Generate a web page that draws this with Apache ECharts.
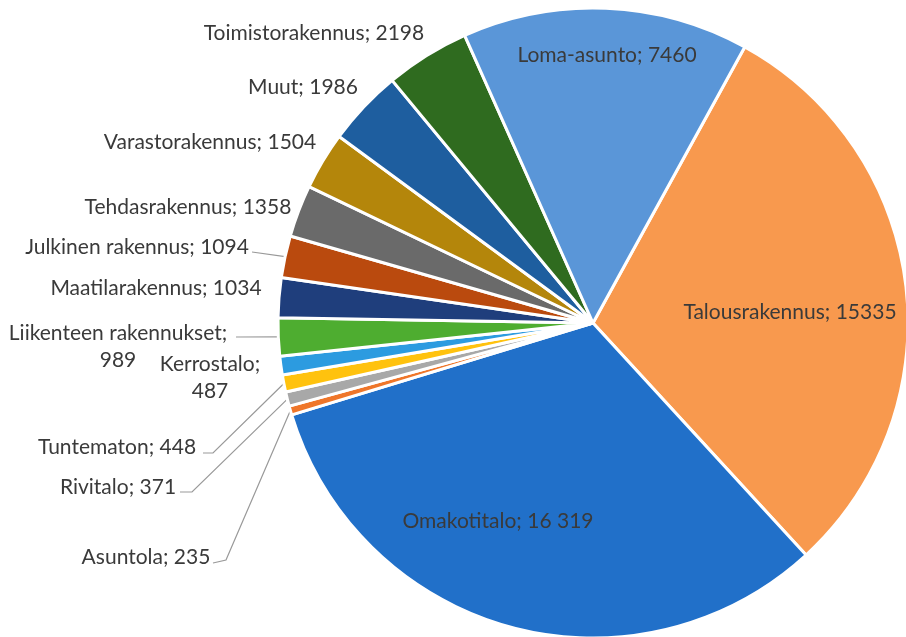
<!DOCTYPE html>
<html>
<head>
<meta charset="utf-8">
<script src="https://cdn.jsdelivr.net/npm/echarts@6/dist/echarts.min.js"></script>
<style>
  html, body { margin: 0; padding: 0; background: #fff; }
  #chart { width: 906px; height: 637px; }
</style>
</head>
<body>
<div id="chart"></div>
<script>
// rakennustyypit myötäpäivään, alkaen Talousrakennuksesta
const names = [
  "Talousrakennus", "Omakotitalo", "Asuntola", "Rivitalo", "Tuntematon",
  "Kerrostalo", "Liikenteen rakennukset", "Maatilarakennus", "Julkinen rakennus",
  "Tehdasrakennus", "Varastorakennus", "Muut", "Toimistorakennus", "Loma-asunto",
];
const values = [15335, 16319, 235, 371, 448, 487, 989, 1034, 1094, 1358, 1504, 1986, 2198, 7460];
const shownValues = ["15335", "16 319", "235", "371", "448", "487", "989", "1034", "1094", "1358", "1504", "1986", "2198", "7460"];

const colors = [
  "#F8994E", "#2170C9", "#EF762A", "#A8A8A8", "#FFC20E", "#2C9BE0", "#4EAD30",
  "#1F3E7C", "#BA4A0E", "#6A6A6A", "#B4860B", "#1E5E9F", "#2F6B1F", "#5A96D8",
];

// label placement (center x, center y) and optional leader-line elbow
const labelPos = [
  [790, 312], [498, 521], [146, 557], [118, 487], [117, 447],
  [210, 378], [118, 347], [156, 288], [137, 247],
  [188, 207], [210, 142], [303, 87], [314, 33], [607, 55],
];
const leaders = {
  2: [[226, 560], [213, 563]],
  3: [[192, 492], [180, 492]],
  4: [[213, 453], [203, 453]],
  6: [[236, 337]],
  8: [[252, 252]],
};
const insideIdx = [0, 1, 13];
const twoLine = [5, 6];

const chart = echarts.init(document.getElementById("chart"), null, { renderer: "canvas" });

const data = names.map((n, i) => ({
  name: n,
  value: values[i],
  itemStyle: { color: colors[i] },
  label: { position: insideIdx.includes(i) ? "inside" : "outside" },
  labelLine: { show: leaders[i] !== undefined },
}));

chart.setOption({
  animation: false,
  series: [
    {
      type: "pie",
      center: [593, 323],
      radius: [0, 315],
      startAngle: 61.2,
      clockwise: true,
      avoidLabelOverlap: false,
      data: data,
      itemStyle: { borderColor: "#fff", borderWidth: 3 },
      label: {
        show: true,
        color: "#3a3a3a",
        fontFamily: "Lato",
        fontSize: 21,
        lineHeight: 27,
        formatter: (p) => {
          const i = p.dataIndex;
          if (twoLine.includes(i)) return names[i] + ";\n" + shownValues[i];
          return names[i] + "; " + shownValues[i];
        },
      },
      labelLine: {
        lineStyle: { color: "#999999", width: 1.2 },
      },
      labelLayout: (p) => {
        const i = p.dataIndex;
        const pos = labelPos[i];
        const out = { x: pos[0], y: pos[1], align: "center", verticalAlign: "middle" };
        if (leaders[i] && p.labelLinePoints) {
          out.labelLinePoints = [p.labelLinePoints[0]].concat(leaders[i]);
        }
        return out;
      },
    },
  ],
});
</script>
</body>
</html>
